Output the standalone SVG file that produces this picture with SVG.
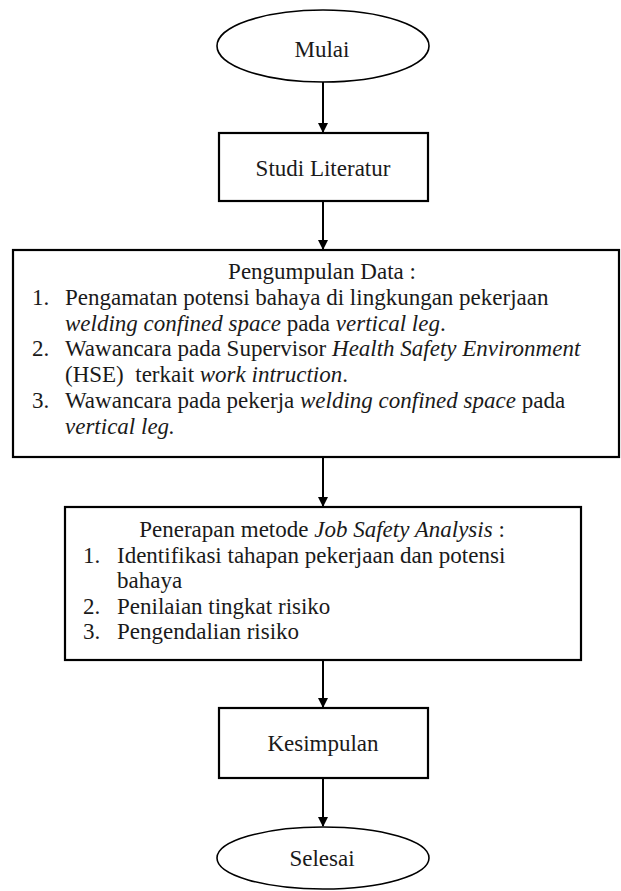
<svg xmlns="http://www.w3.org/2000/svg" width="621" height="891" viewBox="0 0 621 891">
<style>
  .shape { fill: #ffffff; stroke: #000000; stroke-width: 2.2; }
  .term { fill: #ffffff; stroke: #000000; stroke-width: 1.6; }
  .t { font-family: "Liberation Serif", "Times New Roman", serif; font-size: 23px; fill: #1a1a1a; }
  .c { text-anchor: middle; }
  .i { font-style: italic; }
  .conn { stroke: #000000; stroke-width: 2; fill: none; marker-end: url(#arr); }
</style>
<defs>
  <marker id="arr" markerWidth="10" markerHeight="10" refX="9" refY="5" orient="auto" markerUnits="userSpaceOnUse">
    <path d="M0,0 L10,5 L0,10 Z" fill="#000000"/>
  </marker>
</defs>
<rect width="621" height="891" fill="#ffffff"/>

<g id="connectors">
  <line class="conn" x1="323" y1="82" x2="323" y2="132"/>
  <line class="conn" x1="323" y1="201" x2="323" y2="249"/>
  <line class="conn" x1="323" y1="457" x2="323" y2="506"/>
  <line class="conn" x1="323" y1="660" x2="323" y2="707"/>
  <line class="conn" x1="323" y1="778" x2="323" y2="826"/>
</g>

<g id="mulai">
  <ellipse class="term" cx="323" cy="46" rx="106" ry="36"/>
  <text class="t c" x="322" y="57">Mulai</text>
</g>

<g id="studi-literatur">
  <rect class="shape" x="219" y="133" width="209" height="68"/>
  <text class="t c" x="323" y="176">Studi Literatur</text>
</g>

<g id="pengumpulan-data">
  <rect class="shape" x="13" y="250" width="606" height="207"/>
  <text class="t c" x="322" y="279">Pengumpulan Data :</text>
  <text class="t" x="32" y="305">1.</text>
  <text class="t" x="65" y="305">Pengamatan potensi bahaya di lingkungan pekerjaan</text>
  <text class="t" x="65" y="331"><tspan class="i">welding confined space</tspan> pada <tspan class="i">vertical leg</tspan>.</text>
  <text class="t" x="32" y="356">2.</text>
  <text class="t" x="65" y="356">Wawancara pada Supervisor <tspan class="i">Health Safety Environment</tspan></text>
  <text class="t" x="65" y="382">(HSE)&#160; terkait <tspan class="i">work intruction</tspan>.</text>
  <text class="t" x="32" y="408">3.</text>
  <text class="t" x="65" y="408">Wawancara pada pekerja <tspan class="i">welding confined space</tspan> pada</text>
  <text class="t i" x="65" y="434">vertical leg.</text>
</g>

<g id="penerapan-jsa">
  <rect class="shape" x="65" y="507" width="516" height="153"/>
  <text class="t c" x="322" y="537">Penerapan metode <tspan class="i">Job Safety Analysis</tspan> :</text>
  <text class="t" x="83" y="563">1.</text>
  <text class="t" x="117" y="563">Identifikasi tahapan pekerjaan dan potensi</text>
  <text class="t" x="117" y="588">bahaya</text>
  <text class="t" x="83" y="614">2.</text>
  <text class="t" x="117" y="614">Penilaian tingkat risiko</text>
  <text class="t" x="83" y="639">3.</text>
  <text class="t" x="117" y="639">Pengendalian risiko</text>
</g>

<g id="kesimpulan">
  <rect class="shape" x="219" y="708" width="209" height="70"/>
  <text class="t c" x="323" y="751">Kesimpulan</text>
</g>

<g id="selesai">
  <ellipse class="term" cx="323" cy="858" rx="106" ry="31"/>
  <text class="t c" x="322" y="866">Selesai</text>
</g>
</svg>
